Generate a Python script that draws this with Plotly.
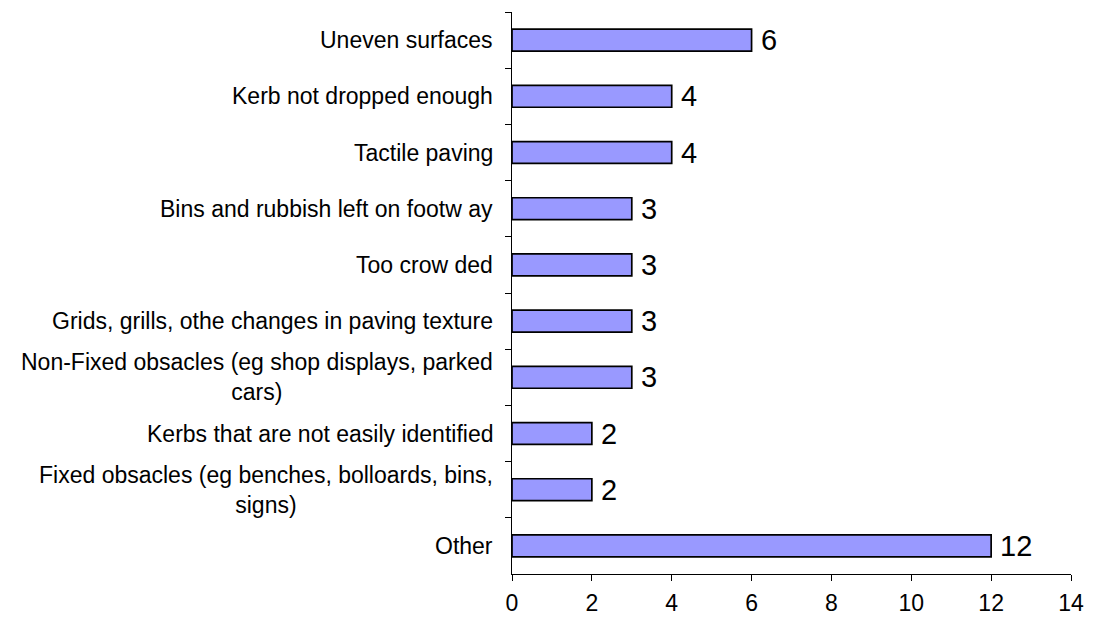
import plotly.graph_objects as go

# Reported problems and how many people mentioned each
categories = [
    "Uneven surfaces",
    "Kerb not dropped enough",
    "Tactile paving",
    "Bins and rubbish left on footw ay",
    "Too crow ded",
    "Grids, grills, othe changes in paving texture",
    "Non-Fixed obsacles (eg shop displays, parked<br>cars)",
    "Kerbs that are not easily identified",
    "Fixed obsacles (eg benches, bolloards, bins,<br>signs)",
    "Other",
]
counts = [6, 4, 4, 3, 3, 3, 3, 2, 2, 12]
x_ticks = [0, 2, 4, 6, 8, 10, 12, 14]

FONT = "Liberation Sans, Arial, sans-serif"
keys = [f"c{i}" for i in range(len(categories))]

fig = go.Figure(
    go.Bar(
        x=counts,
        y=keys,
        orientation="h",
        marker=dict(color="#9999FF", line=dict(color="#000000", width=1.7)),
        hoverinfo="skip",
    )
)

annotations = []
# category labels, right-aligned against the axis, centred line by line
for key, label in zip(keys, categories):
    annotations.append(dict(
        x=0, xref="paper", y=key, yref="y",
        text=label, showarrow=False,
        xanchor="right", yanchor="middle", align="center",
        xshift=-17,
        font=dict(family=FONT, size=23, color="#000000"),
    ))
# value labels at the end of each bar
for key, v in zip(keys, counts):
    annotations.append(dict(
        x=v, xref="x", y=key, yref="y",
        text=str(v), showarrow=False,
        xanchor="left", yanchor="middle",
        xshift=7,
        font=dict(family=FONT, size=29, color="#000000"),
    ))

fig.update_layout(
    width=1097, height=618,
    margin=dict(l=512, r=26, t=12, b=44),
    paper_bgcolor="#FFFFFF", plot_bgcolor="#FFFFFF",
    showlegend=False,
    bargap=0.61,
    annotations=annotations,
    font=dict(family=FONT, color="#000000"),
    xaxis=dict(
        range=[0, 14], tickvals=x_ticks, ticktext=[str(t) for t in x_ticks],
        showgrid=False, zeroline=False, automargin=False,
        showline=True, linecolor="#000000", linewidth=1,
        ticks="outside", ticklen=6, tickcolor="#000000", tickwidth=1,
        ticklabelstandoff=2,
        tickfont=dict(family=FONT, size=23, color="#000000"),
    ),
    yaxis=dict(
        categoryorder="array", categoryarray=keys, autorange="reversed",
        showgrid=False, zeroline=False, automargin=False,
        showline=True, linecolor="#000000", linewidth=1,
        ticks="outside", tickson="boundaries", ticklen=6,
        tickcolor="#000000", tickwidth=1,
        showticklabels=False,
    ),
)

fig.write_html("out.html")
